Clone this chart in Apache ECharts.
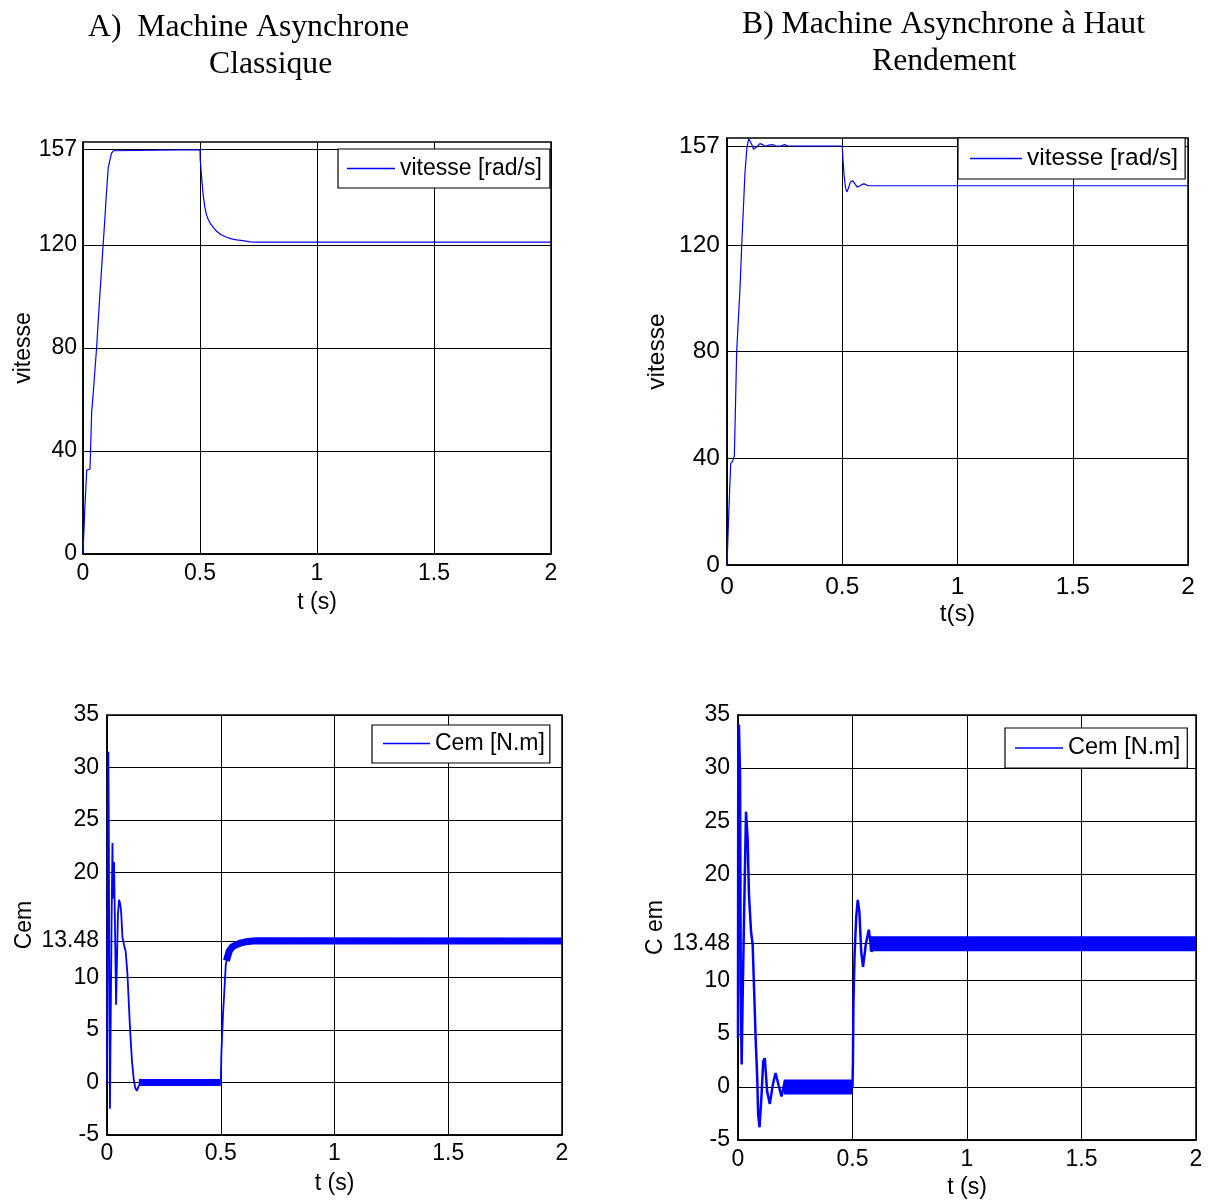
<!DOCTYPE html>
<html><head><meta charset="utf-8">
<script src="https://cdn.jsdelivr.net/npm/echarts@6/dist/echarts.min.js"></script>
<style>html,body{margin:0;padding:0;background:#fff}#c{width:1211px;height:1202px}</style>
</head><body><div id="c"></div>
<script>
// ---- tick labels ----
const xTicks = [0, 0.5, 1, 1.5, 2];
const speedTicks = [0, 40, 80, 120, 157];
const cemTicks = [-5, 0, 5, 10, 13.48, 20, 25, 30, 35];

// ---- A) speed ----
const speedA_t = [0, 0.008, 0.016, 0.03, 0.037, 0.045, 0.058, 0.073, 0.086, 0.094, 0.1, 0.108, 0.115, 0.122, 0.13, 0.137, 0.5, 0.501, 0.503, 0.508, 0.514, 0.521, 0.528, 0.535, 0.543, 0.555, 0.571, 0.59, 0.614, 0.635, 0.657, 0.69, 0.714, 0.75, 1.0, 2.0];
const speedA_v = [0, 18, 32.6, 33, 55, 64, 80, 102, 120, 131, 140, 150, 153, 155.7, 156.6, 157, 157, 153, 151, 145, 139, 134.5, 131.7, 130, 128.5, 127, 125.3, 124, 123, 122.4, 122, 121.6, 121.2, 121.1, 121.1, 121.1];

// ---- B) speed ----
const speedB_t = [0, 0.008, 0.016, 0.025, 0.032, 0.042, 0.056, 0.064, 0.078, 0.086, 0.094, 0.1, 0.108, 0.115, 0.121, 0.13, 0.143, 0.155, 0.165, 0.18, 0.2, 0.215, 0.235, 0.25, 0.262, 0.28, 0.5, 0.503, 0.508, 0.514, 0.52, 0.527, 0.535, 0.545, 0.555, 0.565, 0.575, 0.59, 0.6, 0.612, 2.0];
const speedB_v = [0, 20, 38, 39, 41, 80, 103, 120, 147, 156, 159.8, 159.5, 157.5, 155.8, 155.6, 156.8, 157.9, 157.5, 156.9, 157.3, 157.5, 156.9, 157.1, 157.5, 157.1, 157, 157, 152, 146, 141.5, 139.8, 141.2, 143.4, 144.0, 142.8, 141.6, 142.0, 142.8, 142.7, 142.1, 142.1];

// ---- A) torque ----
const cemA_t = [0, 0.001, 0.003, 0.006, 0.008, 0.010, 0.013, 0.016, 0.020, 0.024, 0.027, 0.031, 0.035, 0.040, 0.044, 0.048, 0.053, 0.058, 0.062, 0.068, 0.072, 0.078, 0.082, 0.090, 0.096, 0.102, 0.110, 0.117, 0.124, 0.131, 0.140, 0.153, 0.5, 0.503, 0.510, 0.515, 0.522, 0.530, 0.537, 0.550, 0.566, 0.590, 0.610, 0.655, 2.0];
const cemA_v = [0, 5.8, 25, 31.5, 24.2, 10, -2.5, 5, 15, 22.8, 17.5, 21, 15, 7.4, 11.8, 16, 17.4, 17, 16.3, 13.8, 13.4, 12.8, 12.5, 10.3, 7.5, 4.8, 2.0, 0.4, -0.5, -0.8, -0.3, 0, 0, 2.9, 6.5, 8.4, 11.2, 12.0, 12.5, 12.9, 13.1, 13.3, 13.4, 13.5, 13.48];
// ripple band (drawn thick) on the steady parts
const cemA_band_t = [0.14, 0.5, 0.51, 0.525, 0.537, 0.55, 0.566, 0.59, 0.61, 0.655, 2.0];
const cemA_band_v = [0, 0, '-', 11.6, 12.5, 12.9, 13.1, 13.3, 13.4, 13.5, 13.48];

// ---- B) torque ----
const cemB_t = [0, 0.001, 0.004, 0.009, 0.012, 0.016, 0.020, 0.026, 0.035, 0.042, 0.048, 0.057, 0.064, 0.071, 0.077, 0.084, 0.088, 0.094, 0.103, 0.110, 0.117, 0.127, 0.139, 0.152, 0.164, 0.178, 0.19, 0.205, 0.22, 0.5, 0.502, 0.504, 0.509, 0.516, 0.523, 0.530, 0.538, 0.546, 0.558, 0.571, 0.584, 0.596, 0.61, 2.0];
const cemB_v = [4.6, 29, 34.1, 29.3, 9.3, 2.1, 8, 15.5, 25.9, 23.4, 18, 14.6, 13.4, 8.7, 4.6, 0.8, -2.6, -3.8, -0.7, 2.4, 2.7, -0.4, -1.6, 0.2, 1.3, 0.1, -0.9, 0.6, 0, 0, 2.4, 7.8, 12.4, 15.9, 17.6, 16.5, 12.7, 11.3, 13.4, 14.8, 12.7, 13.7, 13.48, 13.48];
const cemB_band_t = [0.2, 0.5, 0.55, 0.575, 2.0];
const cemB_band_v = [0, 0, '-', 13.48, 13.48];

// ---- texts ----
const titleA1 = 'A)  Machine Asynchrone';
const titleA2 = 'Classique';
const titleB1 = 'B) Machine Asynchrone à Haut';
const titleB2 = 'Rendement';
const speedName = 'vitesse [rad/s]';
const cemName = 'Cem [N.m]';

const zip = (t, v) => t.map((x, i) => [x, v[i]]);
const SANS = '"Liberation Sans", Arial, sans-serif';
const SERIF = '"Liberation Serif", "Times New Roman", serif';
const BLUE = '#0000ff';

function xAxis(g, name, fs, margin, gap) {
  return {
    type: 'value', gridIndex: g, min: xTicks[0], max: xTicks[xTicks.length - 1], interval: xTicks[1] - xTicks[0],
    name: name, nameLocation: 'middle', nameGap: gap,
    nameTextStyle: { fontSize: fs, fontFamily: SANS, color: '#000' },
    axisLine: { show: true, onZero: false, lineStyle: { color: '#000', width: 1.5 } },
    axisTick: { show: true, inside: true, length: 5, lineStyle: { color: '#000' } },
    axisLabel: { fontSize: fs, fontFamily: SANS, color: '#000', margin: margin,
      formatter: v => String(v) },
    splitLine: { show: true, lineStyle: { color: '#000', width: 1 } }
  };
}
function yAxis(g, name, fs, margin, gap, min, max, ticks) {
  return {
    type: 'value', gridIndex: g, min: min, max: max,
    name: name, nameLocation: 'middle', nameGap: gap,
    nameTextStyle: { fontSize: fs, fontFamily: SANS, color: '#000' },
    axisLine: { show: true, onZero: false, lineStyle: { color: '#000', width: 1.5 } },
    axisTick: { show: true, inside: true, length: 5, customValues: ticks, lineStyle: { color: '#000' } },
    axisLabel: { fontSize: fs, fontFamily: SANS, color: '#000', margin: margin, customValues: ticks,
      padding: [4, 0, 0, 0], formatter: v => String(v) },
    splitLine: { show: true, lineStyle: { color: '#000', width: 1 } }
  };
}
function legend(left, top, name, fs, pad, iw) {
  return {
    left: left, top: top, orient: 'horizontal', data: [name], selectedMode: false,
    icon: 'rect', itemWidth: iw, itemHeight: 1.4, padding: pad,
    borderColor: '#000', borderWidth: 1.2, backgroundColor: '#fff', borderRadius: 0,
    textStyle: { fontSize: fs, fontFamily: SANS, color: '#000' }
  };
}
function title(text, left, top) {
  return { text: text, left: left, top: top, padding: 0,
    textStyle: { fontSize: 31.7, fontFamily: SERIF, fontWeight: 'normal', color: '#000' } };
}

const gridBase = { show: true, borderColor: '#000', borderWidth: 1.5, backgroundColor: '#fff', containLabel: false };

const option = {
  animation: false,
  backgroundColor: '#fff',
  title: [
    title(titleA1, 88, 12), title(titleA2, 209, 49),
    title(titleB1, 742, 9), title(titleB2, 872, 46)
  ],
  legend: [
    legend(338, 149, speedName, 23, [8, 8, 8, 9], 48),
    legend(958, 138, speedName, 24.5, [8, 7, 8, 12], 52),
    legend(372, 725, cemName, 23, [7, 5, 8, 11], 47),
    legend(1005, 728, cemName, 23.5, [8, 7, 8, 10], 48)
  ],
  grid: [
    Object.assign({ left: 83, top: 142, width: 468, height: 412 }, gridBase),
    Object.assign({ left: 727, top: 138, width: 461, height: 427 }, gridBase),
    Object.assign({ left: 107, top: 715, width: 455, height: 420 }, gridBase),
    Object.assign({ left: 738, top: 715, width: 458, height: 425 }, gridBase)
  ],
  xAxis: [
    xAxis(0, 't (s)', 23, 8, 37),
    xAxis(1, 't(s)', 24.5, 10, 37),
    xAxis(2, 't (s)', 23, 7, 37),
    xAxis(3, 't (s)', 23, 8, 36)
  ],
  yAxis: [
    yAxis(0, 'vitesse', 23, 6, 46, 0, 160, speedTicks),
    yAxis(1, 'vitesse', 24.5, 7, 57, 0, 160, speedTicks),
    yAxis(2, 'Cem', 23, 8, 71, -5, 35, cemTicks),
    yAxis(3, 'C em', 23, 8, 71, -5, 35, cemTicks)
  ],
  series: [
    { name: speedName, type: 'line', xAxisIndex: 0, yAxisIndex: 0, data: zip(speedA_t, speedA_v),
      symbol: 'none', lineStyle: { color: BLUE, width: 1.2 }, itemStyle: { color: BLUE } },
    { name: speedName, type: 'line', xAxisIndex: 1, yAxisIndex: 1, data: zip(speedB_t, speedB_v),
      symbol: 'none', lineStyle: { color: BLUE, width: 1.2 }, itemStyle: { color: BLUE } },
    { name: cemName, type: 'line', xAxisIndex: 2, yAxisIndex: 2, data: zip(cemA_t, cemA_v),
      symbol: 'none', lineStyle: { color: BLUE, width: 1.8 }, itemStyle: { color: BLUE } },
    { name: 'rippleA', type: 'line', xAxisIndex: 2, yAxisIndex: 2, data: zip(cemA_band_t, cemA_band_v),
      symbol: 'none', connectNulls: false, lineStyle: { color: BLUE, width: 7, cap: 'butt' }, itemStyle: { color: BLUE } },
    { name: cemName, type: 'line', xAxisIndex: 3, yAxisIndex: 3, data: zip(cemB_t, cemB_v),
      symbol: 'none', lineStyle: { color: BLUE, width: 2.5 }, itemStyle: { color: BLUE } },
    { name: 'rippleB', type: 'line', xAxisIndex: 3, yAxisIndex: 3, data: zip(cemB_band_t, cemB_band_v),
      symbol: 'none', connectNulls: false, lineStyle: { color: BLUE, width: 15, cap: 'butt' }, itemStyle: { color: BLUE } }
  ]
};
const chart = echarts.init(document.getElementById('c'), null, { renderer: 'canvas' });
chart.setOption(option);
</script>
</body></html>
